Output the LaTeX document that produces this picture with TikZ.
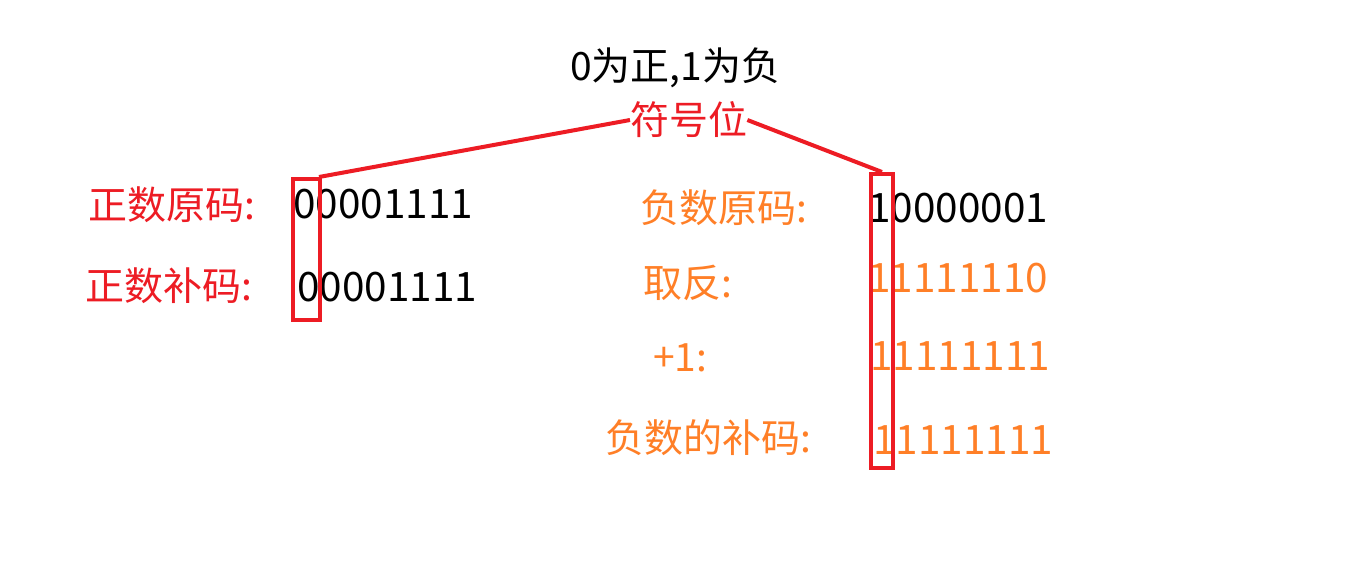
\documentclass[tikz,border=0pt]{standalone}
\usepackage{fontspec}
\setmainfont{Noto Sans CJK SC}
\usetikzlibrary{positioning}
\definecolor{signred}{HTML}{ED1C24}
\definecolor{steporange}{HTML}{FF7F27}

\begin{document}
\begin{tikzpicture}[x=1pt,y=-1pt,
        every node/.append style={inner sep=0pt,anchor=west,font=\fontsize{39}{44}\selectfont},
        bits/.style={font=\fontsize{40.5}{46}\selectfont},
        redlabel/.style={text=signred},
        orangelabel/.style={text=steporange},
        signbox/.style={draw=signred,line width=4pt,anchor=north west},
        signline/.style={draw=signred,line width=4pt}]
        \useasboundingbox[fill=white] (0,0) rectangle (1360,566);
        % title and sign bit
        \node (rule) at (570,68) {0为正,1为负};
        \node[redlabel] (sign) at (630,120) {符号位};
        % positive numbers
        \node[redlabel] (posorig) at (88,205) {正数原码:};
        \node[redlabel] (poscomp) at (85,286) {正数补码:};
        \node[bits] (posorigbits) at (293,204) {00001111};
        \node[bits] (poscompbits) at (297,287) {00001111};
        % negative numbers
        \node[orangelabel] (negorig) at (640,208) {负数原码:};
        \node[orangelabel] (invert) at (643,283) {取反:};
        \node[orangelabel] (plusone) at (653,358) {+1:};
        \node[orangelabel] (negcomp) at (605,438) {负数的补码:};
        \node[bits] (negorigbits) at (868,208) {10000001};
        \node[bits,orangelabel] (invertbits) at (868,278) {11111110};
        \node[bits,orangelabel] (plusonebits) at (870,356) {11111111};
        \node[bits,orangelabel] (negcompbits) at (873,440) {11111111};
        % boxes round the sign bit
        \node[signbox,minimum width=27pt,minimum height=141pt] (boxL) at (291,177) {};
        \node[signbox,minimum width=22pt,minimum height=294pt] (boxR) at (869,172) {};
        \draw[signline] (sign.west) -- ([xshift=-3pt]boxL.north east);
        \draw[signline] (sign.east) -- (boxR.north);
    \end{tikzpicture}
\end{document}
